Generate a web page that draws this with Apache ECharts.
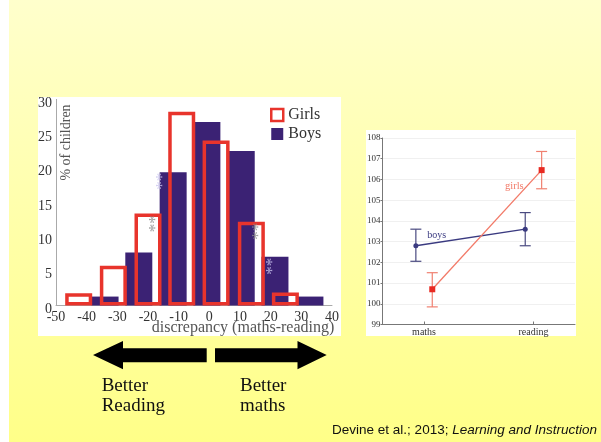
<!DOCTYPE html>
<html><head><meta charset="utf-8">
<script src="https://cdn.jsdelivr.net/npm/echarts@6/dist/echarts.min.js"></script>
<style>html,body{margin:0;padding:0;background:#fff}#c{width:601px;height:442px}</style>
</head><body><div id="c"></div>
<script>
// Histogram: maths-minus-reading discrepancy, bin centre and % of children
const girlsBins = [-42.6, -31.3, -20.0, -9.0, 2.2, 13.7, 24.8];
const girlsPct  = [1.8, 5.8, 13.4, 28.2, 24.0, 12.2, 1.9];
const boysBins  = [-34.0, -23.0, -11.8, -0.8, 10.4, 21.4, 32.8];
const boysPct   = [1.3, 7.7, 19.4, 26.7, 22.5, 7.1, 1.3];
// Significance asterisks: [discrepancy, %, tone]
const sigMarks  = [[-15.3, 18.1, 'light'], [-17.7, 11.9, 'dark'], [16.2, 10.8, 'dark'], [20.6, 5.7, 'light']];
const histX = [-50, 40, 10];   // min, max, step
const histY = [0, 30, 5];

// Standardised scores by subject (mean with error-bar limits)
const subjects   = ['maths', 'reading'];
const boysMean   = [102.8, 103.6];
const boysLow    = [102.05, 102.8];
const boysHigh   = [103.6, 104.4];
const girlsMean  = [100.7, 106.45];
const girlsLow   = [99.85, 105.55];
const girlsHigh  = [101.5, 107.35];
const scoreY     = [99, 108, 1];

const SERIF = '"Liberation Serif", "DejaVu Serif", serif';
const SANS = '"Liberation Sans", Arial, sans-serif';
const RED = '#e8342c', NAVY = '#3b2274';
const LINE_BOYS = '#3a3a80', LINE_GIRLS = '#f27a68', PT_GIRLS = '#e82a22';
const DODGE = 0.075;

function errorBars(low, high, dodge, color) {
  return {
    type: 'custom', xAxisIndex: 1, yAxisIndex: 1, z: 3,
    data: low.map((l, i) => [i + 1 + dodge, l, high[i]]),
    renderItem: function (params, api) {
      const x = api.value(0);
      const a = api.coord([x, api.value(1)]);
      const b = api.coord([x, api.value(2)]);
      const w = 5.5;
      const st = { stroke: color, lineWidth: 1.2 };
      return { type: 'group', children: [
        { type: 'line', shape: { x1: a[0], y1: a[1], x2: b[0], y2: b[1] }, style: st },
        { type: 'line', shape: { x1: a[0] - w, y1: a[1], x2: a[0] + w, y2: a[1] }, style: st },
        { type: 'line', shape: { x1: b[0] - w, y1: b[1], x2: b[0] + w, y2: b[1] }, style: st }
      ]};
    }
  };
}

const chart = echarts.init(document.getElementById('c'));
chart.setOption({
  animation: false,
  backgroundColor: { type: 'linear', x: 0, y: 0, x2: 0, y2: 1,
    colorStops: [{ offset: 0, color: '#ffffcc' }, { offset: 1, color: '#ffff88' }] },
  graphic: [
    { type: 'rect', z: 0, shape: { x: 0, y: 0, width: 9, height: 442 }, style: { fill: '#fff' } },
    { type: 'rect', z: 0, shape: { x: 38, y: 97, width: 303, height: 239 }, style: { fill: '#fff' } },
    { type: 'rect', z: 0, shape: { x: 366, y: 130, width: 210, height: 206 }, style: { fill: '#fff' } },
    { type: 'text', z: 5, x: 66.5, y: 142.5, rotation: Math.PI / 2,
      style: { text: '% of children', fill: '#555', font: '14px ' + SERIF,
        textAlign: 'center', textVerticalAlign: 'middle', align: 'center', verticalAlign: 'middle' } },
    { type: 'text', z: 5, x: 243, y: 328,
      style: { text: 'discrepancy (maths-reading)', fill: '#555', font: '16px ' + SERIF,
        textAlign: 'center', textVerticalAlign: 'middle', align: 'center', verticalAlign: 'middle' } },
    { type: 'polygon', z: 5, shape: { points: [[93, 355], [123, 341], [123, 348.3], [206.7, 348.3], [206.7, 362.3], [123, 362.3], [123, 369.3]] }, style: { fill: '#000' } },
    { type: 'polygon', z: 5, shape: { points: [[215, 348.3], [297.5, 348.3], [297.5, 341], [326.7, 355], [297.5, 369.3], [297.5, 362.3], [215, 362.3]] }, style: { fill: '#000' } },
    { type: 'text', z: 5, x: 101.7, y: 376.5,
      style: { text: 'Better\nReading', fill: '#111', font: '19px ' + SERIF, lineHeight: 20,
        textAlign: 'left', textVerticalAlign: 'top', align: 'left', verticalAlign: 'top' } },
    { type: 'text', z: 5, x: 240, y: 376.5,
      style: { text: 'Better\nmaths', fill: '#111', font: '19px ' + SERIF, lineHeight: 20,
        textAlign: 'left', textVerticalAlign: 'top', align: 'left', verticalAlign: 'top' } },
    { type: 'text', z: 5, x: 597, y: 430,
      style: { text: '{n|Devine et al.; 2013; }{i|Learning and Instruction}',
        rich: { n: { fontFamily: SANS, fontSize: 13.5, fill: '#111', color: '#111' },
                i: { fontFamily: SANS, fontSize: 13.5, fontStyle: 'italic', fill: '#111', color: '#111' } },
        textAlign: 'right', textVerticalAlign: 'middle', align: 'right', verticalAlign: 'middle' } }
  ],
  legend: {
    left: 270, top: 107, orient: 'vertical', itemWidth: 12, itemHeight: 12, itemGap: 3, padding: 0,
    textStyle: { fontFamily: SERIF, fontSize: 16, color: '#333' },
    data: [
      { name: 'Girls', icon: 'rect', itemStyle: { color: '#fff', borderColor: RED, borderWidth: 2.5 } },
      { name: 'Boys', icon: 'rect', itemStyle: { color: NAVY } }
    ]
  },
  grid: [
    { left: 56, top: 99.4, width: 276, height: 206.1 },
    { left: 382.5, top: 138, width: 192.5, height: 186.5, show: true, borderColor: '#777', borderWidth: 1, backgroundColor: 'transparent' }
  ],
  xAxis: [
    { type: 'value', gridIndex: 0, min: histX[0], max: histX[1], interval: histX[2],
      axisLine: { show: true, onZero: false, lineStyle: { color: '#aaa' } }, axisTick: { show: false },
      splitLine: { show: false },
      axisLabel: { fontFamily: SERIF, fontSize: 14, color: '#333', margin: 5 } },
    { type: 'value', gridIndex: 1, min: 0.62, max: 2.38,
      axisLine: { show: true, onZero: false, lineStyle: { color: '#777' } },
      axisTick: { show: true, inside: true, length: 3, customValues: [1, 2], lineStyle: { color: '#777' } },
      splitLine: { show: false },
      axisLabel: { customValues: [1, 2], formatter: v => subjects[Math.round(v) - 1],
        fontFamily: SERIF, fontSize: 10, color: '#333', margin: 3 } }
  ],
  yAxis: [
    { type: 'value', gridIndex: 0, min: histY[0], max: histY[1], interval: histY[2],
      axisLine: { show: true, onZero: false, lineStyle: { color: '#aaa' } }, axisTick: { show: false },
      splitLine: { show: false },
      axisLabel: { fontFamily: SERIF, fontSize: 14, color: '#333', margin: 4, verticalAlign: 'top', lineHeight: 7 } },
    { type: 'value', gridIndex: 1, min: scoreY[0], max: scoreY[1], interval: scoreY[2],
      axisLine: { show: true, onZero: false, lineStyle: { color: '#777' } },
      axisTick: { show: true, length: 2, lineStyle: { color: '#777' } },
      splitLine: { show: true, lineStyle: { color: '#f0f0f0' } },
      axisLabel: { fontFamily: SERIF, fontSize: 9, color: '#333', margin: 2 } }
  ],
  series: [
    { name: 'Boys', type: 'bar', xAxisIndex: 0, yAxisIndex: 0, barWidth: 27, barGap: '-100%', z: 2,
      data: boysBins.map((x, i) => [x, boysPct[i]]), itemStyle: { color: NAVY } },
    { name: 'Girls', type: 'bar', xAxisIndex: 0, yAxisIndex: 0, barWidth: 27, barGap: '-100%', z: 3,
      data: girlsBins.map((x, i) => [x, girlsPct[i]]),
      itemStyle: { color: 'rgba(0,0,0,0)', borderColor: RED, borderWidth: 3.5 } },
    { type: 'scatter', xAxisIndex: 0, yAxisIndex: 0, z: 4, symbolSize: 1, silent: true,
      data: sigMarks.map(m => ({ value: [m[0], m[1]],
        itemStyle: { color: 'rgba(0,0,0,0)' },
        label: { show: true, position: 'inside', formatter: '**', rotate: 90,
          fontFamily: SERIF, fontSize: 17, color: m[2] === 'light' ? '#c9c3ee' : '#8a8a8a' } })) },
    errorBars(boysLow, boysHigh, -DODGE, '#4a4a80'),
    errorBars(girlsLow, girlsHigh, DODGE, '#f08070'),
    { type: 'line', xAxisIndex: 1, yAxisIndex: 1, z: 4, symbol: 'circle', symbolSize: 5,
      lineStyle: { color: LINE_BOYS, width: 1.3 }, itemStyle: { color: LINE_BOYS },
      data: boysMean.map((v, i) => ({ value: [i + 1 - DODGE, v],
        label: i === 0 ? { show: true, formatter: 'boys', position: 'right', distance: 9, offset: [0, -10],
          fontFamily: SERIF, fontSize: 10, color: LINE_BOYS } : { show: false } })) },
    { type: 'line', xAxisIndex: 1, yAxisIndex: 1, z: 4, symbol: 'rect', symbolSize: 6,
      lineStyle: { color: LINE_GIRLS, width: 1.3 }, itemStyle: { color: PT_GIRLS },
      data: girlsMean.map((v, i) => ({ value: [i + 1 + DODGE, v],
        label: i === 1 ? { show: true, formatter: 'girls', position: 'left', distance: 15, offset: [0, 16],
          fontFamily: SERIF, fontSize: 10.5, color: LINE_GIRLS } : { show: false } })) }
  ]
});
</script>
</body></html>
